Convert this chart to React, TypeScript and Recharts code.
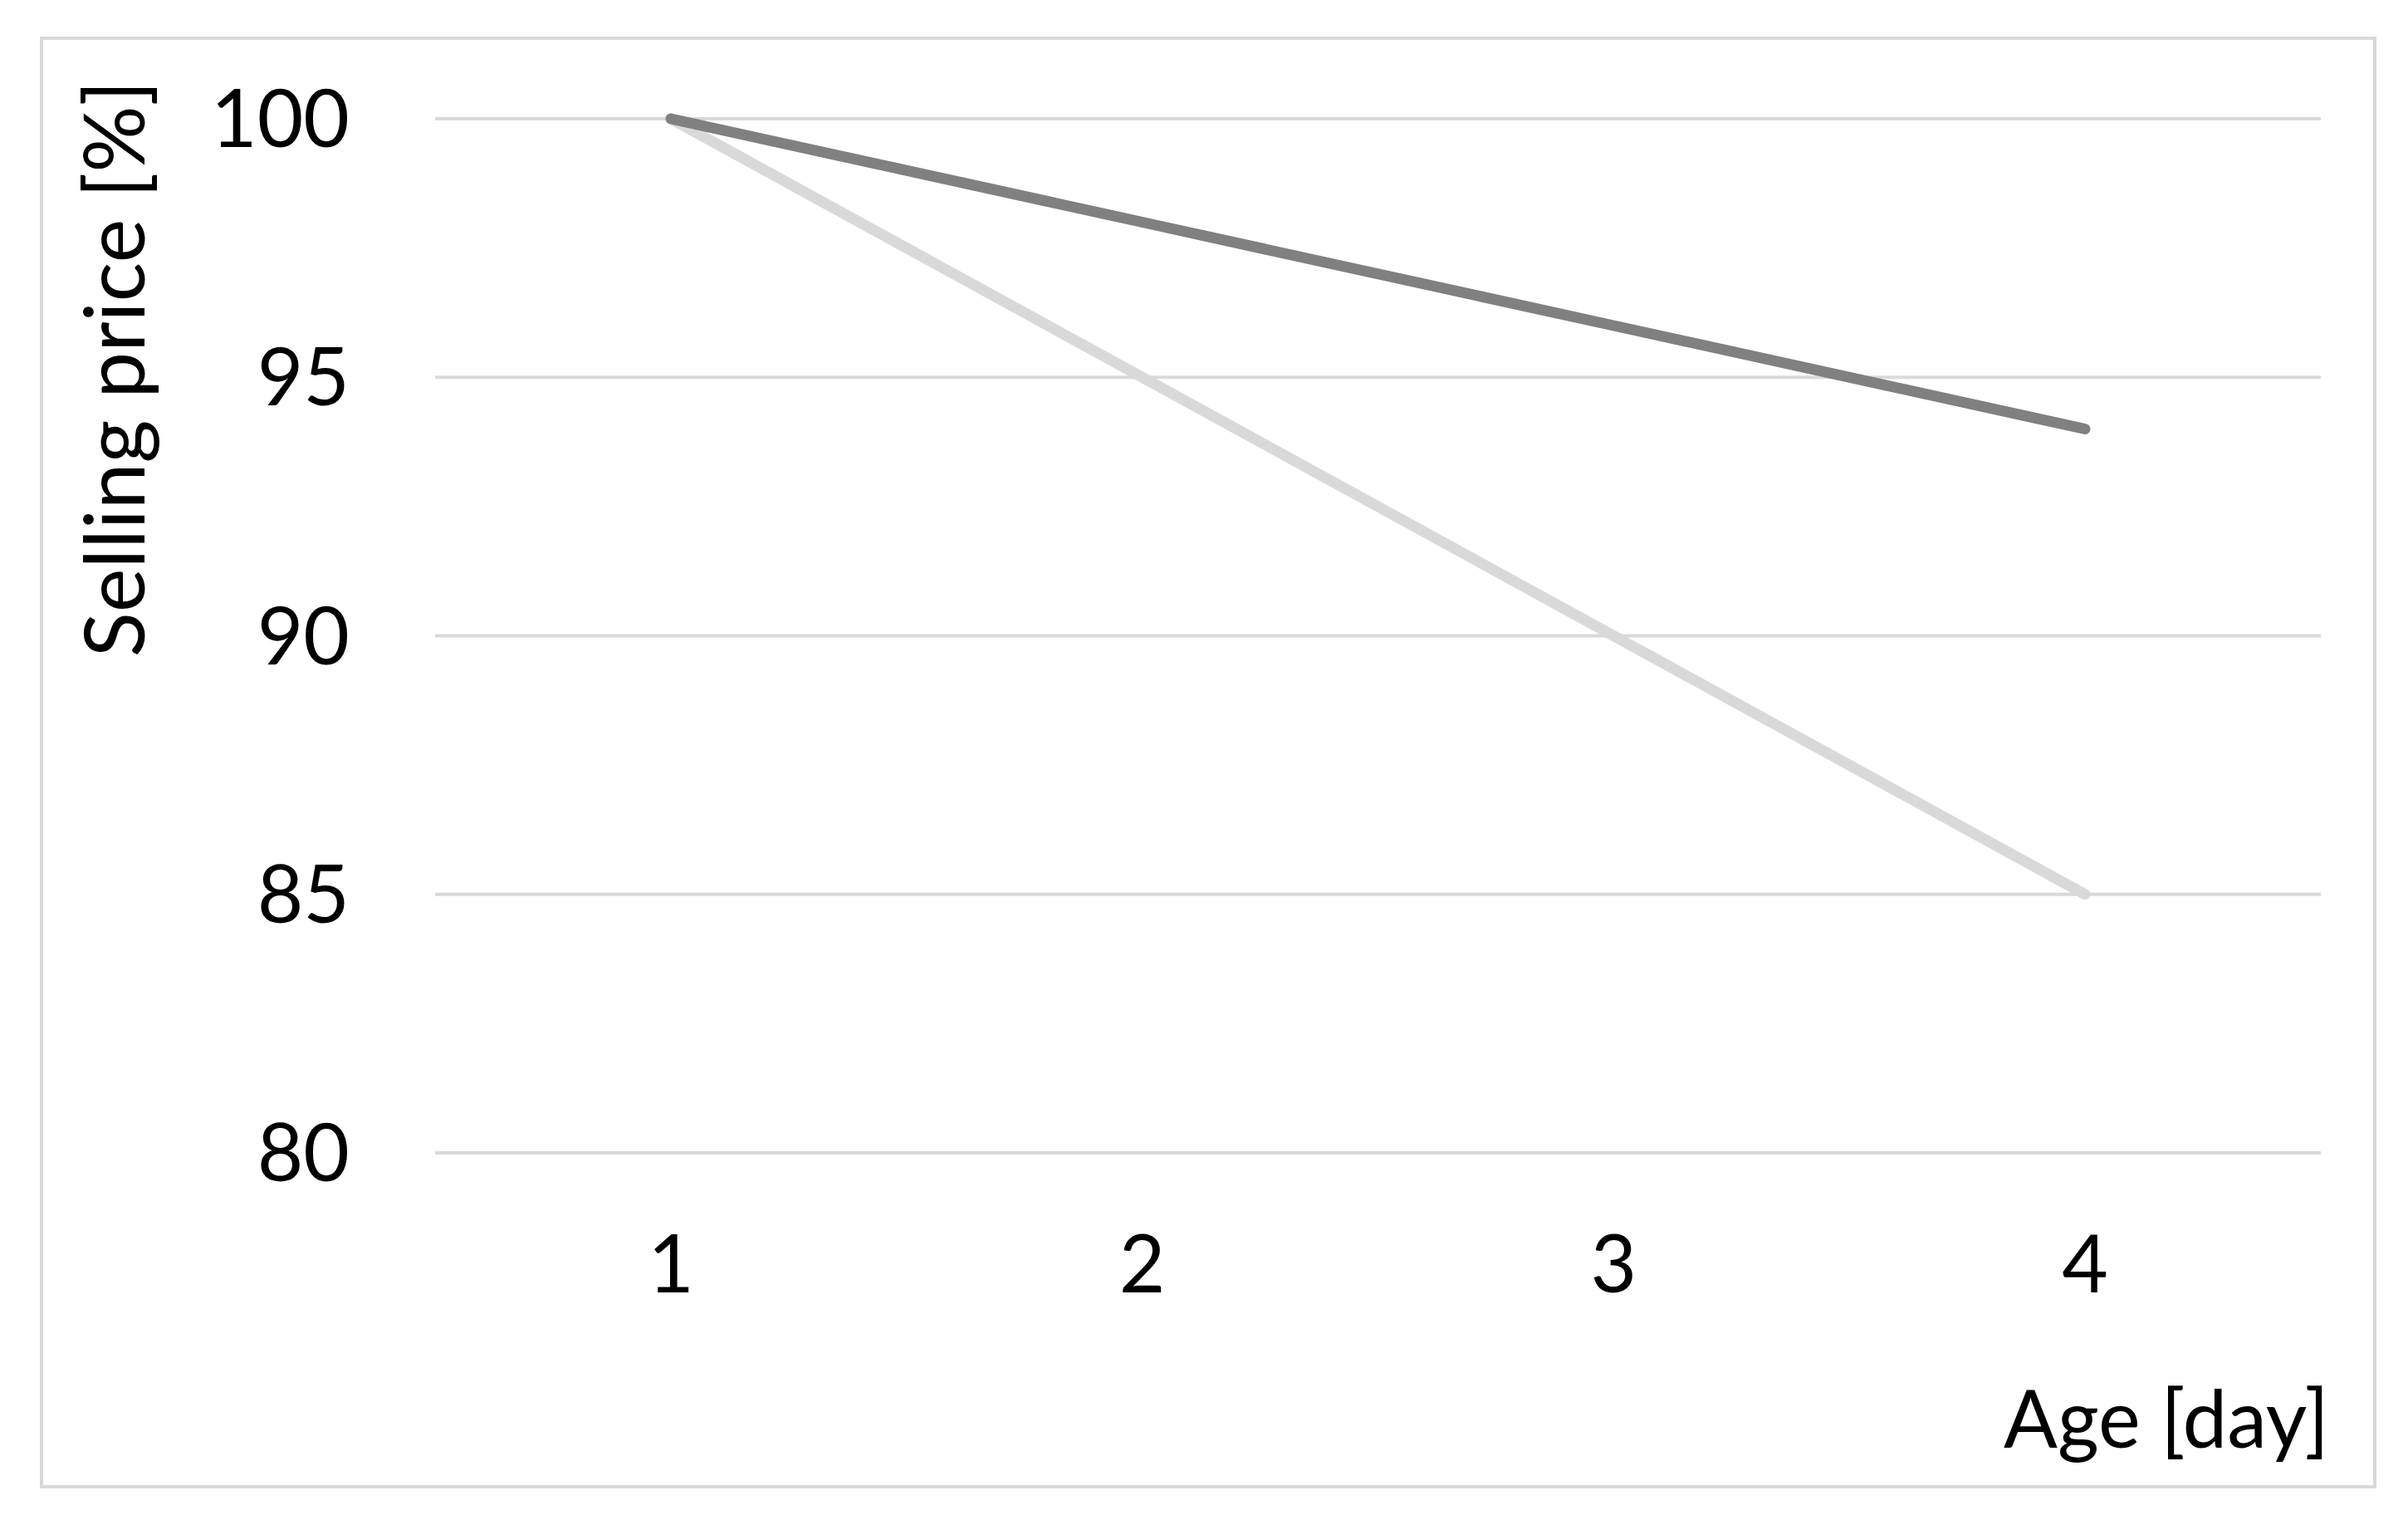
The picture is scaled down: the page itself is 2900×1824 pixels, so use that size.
import React from 'react'
import { LineChart, Line, XAxis, YAxis, CartesianGrid } from 'recharts'

const ages = ['1', '2', '3', '4']
const slowDrop = [100, 98, 96, 94]
const fastDrop = [100, 95, 90, 85]
const yTicks = [80, 85, 90, 95, 100]

const data = ages.map((age, i) => ({ age, slow: slowDrop[i], fast: fastDrop[i] }))

const FONT = 'Lato, "Open Sans", sans-serif'

const XLabel = (props: any) => {
  const { viewBox } = props
  return (
    <text x={viewBox.x + viewBox.width + 10} y={viewBox.y + 355} textAnchor="end"
      fontFamily={FONT} fontSize={96} fill="#000">
      Age [day]
    </text>
  )
}

const YLabel = (props: any) => {
  const { viewBox } = props
  const x = 174
  const y = viewBox.y + 301
  return (
    <text x={x} y={y} textAnchor="middle" transform={`rotate(-90, ${x}, ${y})`}
      fontFamily={FONT} fontSize={100} fill="#000">
      Selling price [%]
    </text>
  )
}

const App = () => {
  return (
    <div style={{ position: 'absolute', left: 0, top: 0, width: 2900, height: 1824, background: '#fff' }}>
      <div style={{
        position: 'absolute', left: 48, top: 44, width: 2814, height: 1748,
        boxSizing: 'border-box', border: '4px solid #d9d9d9'
      }} />
      <div style={{ position: 'absolute', left: 0, top: 0 }}>
        <LineChart width={2900} height={1824} data={data}
          margin={{ top: 143, right: 105, left: 0, bottom: 0 }}>
          <CartesianGrid vertical={false} stroke="#d9d9d9" strokeWidth={4} />
          <XAxis dataKey="age" height={436} axisLine={false} tickLine={false} tickSize={0}
            padding={{ left: 284, right: 284 }}
            tickMargin={100} tick={{ fontFamily: FONT, fontSize: 96, fill: '#000' }}
            label={<XLabel />} />
          <YAxis type="number" domain={[80, 100]} ticks={yTicks} width={524}
            axisLine={false} tickLine={false} tickSize={0} tickMargin={103}
            tick={{ fontFamily: FONT, fontSize: 96, fill: '#000' }}
            label={<YLabel />} />
          <Line dataKey="fast" stroke="#d9d9d9" strokeWidth={13} strokeLinecap="round"
            dot={false} isAnimationActive={false} />
          <Line dataKey="slow" stroke="#808080" strokeWidth={13} strokeLinecap="round"
            dot={false} isAnimationActive={false} />
        </LineChart>
      </div>
    </div>
  )
}

export default App
